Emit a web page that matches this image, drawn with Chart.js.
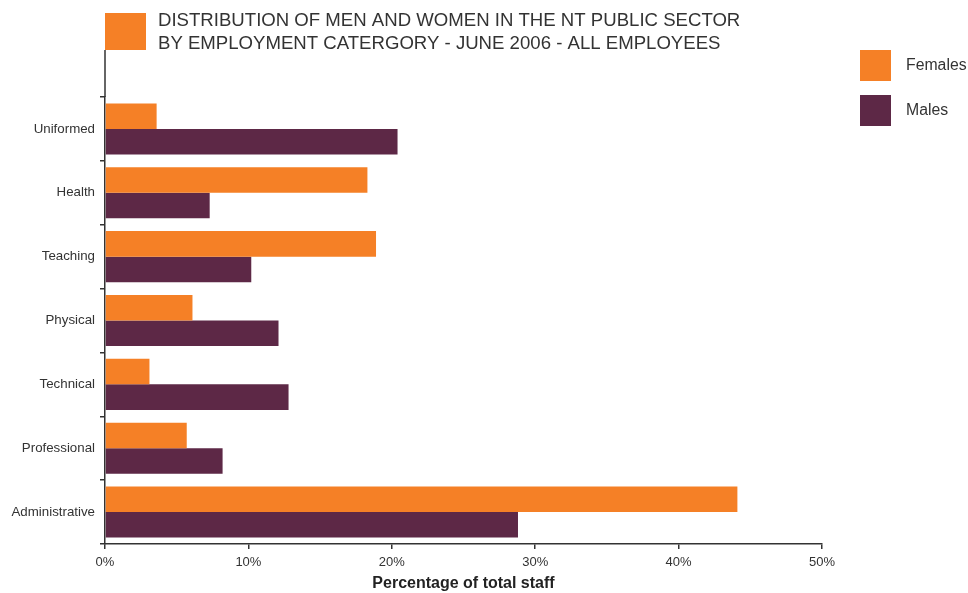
<!DOCTYPE html>
<html>
<head>
<meta charset="utf-8">
<script src="https://cdn.jsdelivr.net/npm/chart.js@4"></script>
<style>
  html, body { margin: 0; padding: 0; background: #fff; }
  #wrap { position: relative; width: 968px; height: 593px; }
</style>
</head>
<body>
<div id="wrap"><canvas id="staffChart" width="968" height="593"></canvas></div>
<script>
// Employment categories, top to bottom
const categories = ['Uniformed', 'Health', 'Teaching', 'Physical', 'Technical', 'Professional', 'Administrative'];

// Share of total staff (%)
const females = [3.6, 18.3, 18.9, 6.1, 3.1, 5.7, 44.1];
const males = [20.4, 7.3, 10.2, 12.1, 12.8, 8.2, 28.8];

const titleLines = [
    'DISTRIBUTION OF MEN AND WOMEN IN THE NT PUBLIC SECTOR',
    'BY EMPLOYMENT CATERGORY - JUNE 2006 - ALL EMPLOYEES'
];

const ORANGE = '#f58026';
const PLUM = '#5d2846';
const FONT = 'Liberation Sans, Arial, sans-serif';

// Header box, axis extension and legend
const decorations = {
    id: 'decorations',
    afterDraw(chart) {
        const ctx = chart.ctx;
        const area = chart.chartArea;
        ctx.save();

        // orange block over the axis
        ctx.fillStyle = ORANGE;
        ctx.fillRect(area.left, 13, 41, 37);

        // axis line continues up to the block
        ctx.strokeStyle = '#333';
        ctx.lineWidth = 1.5;
        ctx.beginPath();
        ctx.moveTo(area.left, 50);
        ctx.lineTo(area.left, area.top);
        ctx.stroke();

        // title
        ctx.fillStyle = '#333';
        ctx.font = '18.6px ' + FONT;
        ctx.textBaseline = 'middle';
        ctx.textAlign = 'left';
        ctx.fillText(titleLines[0], 158, 21);
        ctx.fillText(titleLines[1], 158, 44);

        // legend
        ctx.font = '15.8px ' + FONT;
        chart.data.datasets.forEach((ds, i) => {
            const y = 50 + i * 45;
            ctx.fillStyle = ds.backgroundColor;
            ctx.fillRect(860, y, 31, 31);
            ctx.fillStyle = '#333';
            ctx.fillText(ds.label, 906, y + 16);
        });
        ctx.restore();
    }
};

new Chart(document.getElementById('staffChart').getContext('2d'), {
    type: 'bar',
    data: {
        labels: categories,
        datasets: [
            { label: 'Females', data: females, backgroundColor: ORANGE },
            { label: 'Males', data: males, backgroundColor: PLUM }
        ]
    },
    options: {
        indexAxis: 'y',
        responsive: false,
        animation: false,
        devicePixelRatio: 1,
        layout: { padding: { top: 97, right: 146, bottom: 0, left: 0 } },
        datasets: {
            bar: { categoryPercentage: 0.8, barPercentage: 1.0 }
        },
        plugins: {
            legend: { display: false },
            title: { display: false },
            tooltip: { enabled: false }
        },
        scales: {
            x: {
                min: 0,
                max: 50,
                afterFit(scale) { scale.height = 49; },
                border: { color: '#333', width: 1.5 },
                grid: { drawOnChartArea: false, tickLength: 5, color: '#333', lineWidth: 1.5 },
                ticks: {
                    stepSize: 10,
                    padding: 6,
                    color: '#333',
                    font: { family: FONT, size: 13 },
                    callback: v => v + '%'
                },
                title: {
                    display: true,
                    text: 'Percentage of total staff',
                    color: '#222',
                    padding: { top: 1, bottom: 0 },
                    font: { family: FONT, size: 16, weight: 'bold' }
                }
            },
            y: {
                offset: true,
                afterFit(scale) { scale.width = 105; },
                border: { color: '#333', width: 1.5 },
                grid: { offset: true, drawOnChartArea: false, tickLength: 5, color: '#333', lineWidth: 1.5 },
                ticks: {
                    padding: 5,
                    color: '#333',
                    font: { family: FONT, size: 13.3 }
                }
            }
        }
    },
    plugins: [decorations]
});
</script>
</body>
</html>
